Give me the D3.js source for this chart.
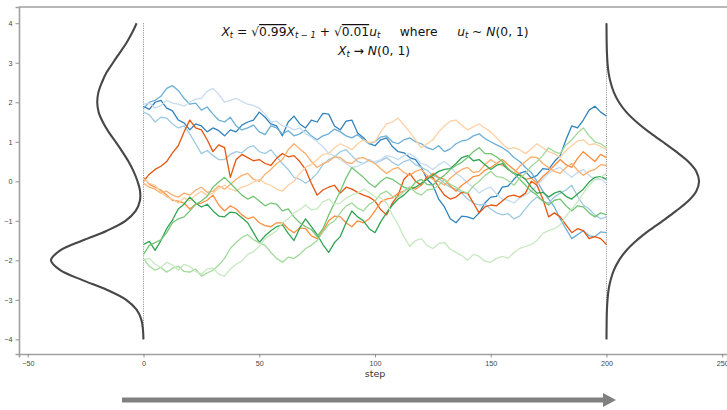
<!DOCTYPE html>
<html>
<head>
<meta charset="utf-8">
<script src="https://cdn.jsdelivr.net/npm/d3@7"></script>
<style>
  body { margin: 0; background: #fff; }
  svg { display: block; font-family: "DejaVu Sans", sans-serif; }
</style>
</head>
<body>
<div id="chart"></div>
<script>
const W = 727, H = 410;

// steps sampled every 2.5
const steps = d3.range(0, 200.001, 2.5);

const xTicks = [-50, 0, 50, 100, 150, 200, 250];
const yTicks = [-4, -3, -2, -1, 0, 1, 2, 3, 4];

// density grid (y) and widths
const densityY = d3.range(-4, 4.001, 0.25);
const leftDensity = [0.05, 0.25, 0.95, 3.0, 7.5, 15.7, 26.4, 36.0, 40.0, 36.0, 26.4, 15.8, 7.8, 3.4, 1.6, 1.5, 2.6,
  4.3, 6.5, 9.2, 12.1, 15.1, 17.6, 19.4, 20.0, 19.5, 18.0, 16.0, 13.2, 10.3, 7.4, 5.0, 3.0];
const rightDensity = [0.01, 0.04, 0.09, 0.2, 0.44, 0.9, 1.8, 3.2, 5.4, 8.6, 13.0, 18.3, 24.3, 30.1, 35.3, 38.8, 40.0,
  38.8, 35.3, 30.1, 24.3, 18.3, 13.0, 8.6, 5.4, 3.2, 1.8, 0.9, 0.44, 0.2, 0.09, 0.04, 0.01];

// the twelve paths (81 values each)
const blue1 = [
  1.90, 1.82, 2.00, 2.05, 1.85, 1.78, 1.55, 1.48, 1.30, 1.45, 1.40, 1.25, 1.35, 1.28, 1.15, 1.30, 1.25, 1.42, 1.50, 1.55,
  1.75, 1.62, 1.45, 1.40, 1.15, 1.50, 1.65, 1.45, 1.35, 1.55, 1.50, 1.72, 1.70, 1.40, 1.30, 1.52, 1.55, 1.22, 1.10, 0.95,
  0.90, 1.05, 1.10, 0.88, 0.75, 0.72, 0.60, 0.55, 0.35, 0.05, -0.10, -0.45, -0.65, -0.95, -1.05, -0.88, -0.90, -0.95, -0.80, -0.55,
  -0.40, -0.38, -0.15, -0.12, 0.05, 0.20, 0.25, 0.08, 0.15, 0.32, 0.30, 0.50, 0.65, 1.05, 1.40, 1.35, 1.55, 1.80, 1.90, 1.75,
  1.65];
const blue2 = [
  1.85, 2.00, 2.05, 2.15, 2.35, 2.42, 2.30, 2.10, 1.95, 1.98, 1.80, 1.88, 1.70, 1.55, 1.50, 1.62, 1.40, 1.30, 1.35, 1.42,
  1.25, 1.18, 1.40, 1.35, 1.20, 1.28, 1.15, 1.20, 1.30, 1.15, 1.05, 1.15, 1.20, 1.32, 1.25, 1.15, 1.10, 1.18, 1.05, 0.95,
  1.00, 1.12, 1.15, 1.00, 0.95, 1.05, 1.10, 1.00, 0.95, 0.85, 0.80, 0.90, 0.75, 0.82, 0.95, 1.02, 1.05, 1.15, 1.20, 1.08,
  1.00, 0.92, 0.85, 0.75, 0.60, 0.50, 0.35, 0.22, 0.00, -0.25, -0.45, -0.65, -0.95, -1.20, -1.45, -1.35, -1.25, -1.38, -1.40, -1.28,
  -1.30];
const blue3 = [
  1.75, 1.68, 1.50, 1.62, 1.60, 1.45, 1.35, 1.40, 1.20, 0.95, 0.70, 0.78, 0.65, 0.55, 0.55, 0.68, 0.75, 0.72, 0.85, 0.90,
  0.75, 0.70, 0.80, 0.62, 0.45, 0.30, 0.10, 0.05, -0.05, 0.05, 0.20, 0.42, 0.55, 0.62, 0.75, 0.80, 0.65, 0.50, 0.45, 0.55,
  0.45, 0.52, 0.60, 0.48, 0.40, 0.50, 0.55, 0.42, 0.35, 0.28, 0.15, 0.08, -0.05, -0.15, -0.20, -0.30, -0.45, -0.55, -0.60, -0.58,
  -0.70, -0.80, -0.85, -0.82, -0.95, -0.88, -0.70, -0.52, -0.40, -0.50, -0.55, -0.40, -0.30, -0.22, -0.10, -0.38, -0.60, -0.70, -0.85, -0.95,
  -0.90];
const blue4 = [
  1.95, 1.98, 1.85, 1.92, 2.05, 1.98, 1.95, 1.90, 2.00, 2.08, 2.10, 2.28, 2.35, 2.20, 2.00, 2.05, 2.10, 2.02, 1.95, 1.92,
  1.85, 1.70, 1.50, 1.52, 1.40, 1.38, 1.30, 1.35, 1.20, 1.12, 1.00, 0.88, 0.70, 0.65, 0.55, 0.45, 0.35, 0.38, 0.45, 0.52,
  0.50, 0.55, 0.65, 0.62, 0.55, 0.65, 0.70, 0.60, 0.45, 0.40, 0.30, 0.42, 0.50, 0.38, 0.20, 0.10, -0.05, -0.15, -0.30, -0.20,
  -0.15, -0.32, -0.45, -0.48, -0.55, -0.42, -0.35, -0.25, -0.10, 0.05, 0.20, 0.30, 0.35, 0.22, 0.10, 0.22, 0.30, 0.15, 0.05, 0.05,
  -0.05];
const orange1 = [
  0.00, 0.18, 0.30, 0.38, 0.50, 0.72, 0.90, 1.25, 1.55, 1.35, 1.30, 1.05, 0.75, 0.92, 0.85, 0.10, 0.55, 0.68, 0.60, 0.52,
  0.55, 0.45, 0.40, 0.58, 0.70, 0.62, 0.65, 0.50, 0.30, -0.05, -0.35, -0.22, -0.15, -0.10, -0.30, -0.15, -0.20, -0.28, -0.35, -0.40,
  -0.50, -0.72, -0.85, -0.55, -0.35, 0.05, 0.20, 0.00, -0.10, 0.12, 0.10, -0.15, -0.35, -0.45, -0.40, -0.28, -0.30, -0.55, -0.80, -0.65,
  -0.60, -0.62, -0.50, -0.38, -0.35, -0.40, -0.30, 0.00, -0.10, -0.45, -0.90, -0.80, -0.90, -1.10, -1.30, -1.20, -1.25, -1.45, -1.40, -1.45,
  -1.60];
const orange2 = [
  0.10, -0.08, -0.15, -0.22, -0.35, -0.48, -0.50, -0.55, -0.70, -0.58, -0.55, -0.48, -0.35, -0.60, -0.75, -0.62, -0.70, -0.85, -0.95, -0.90,
  -1.05, -1.12, -1.15, -1.05, -1.05, -1.20, -1.30, -1.18, -1.20, -1.38, -1.45, -1.25, -1.00, -0.88, -0.90, -1.05, -1.15, -1.00, -1.05, -0.95,
  -0.75, -0.52, -0.45, -0.42, -0.30, -0.25, -0.15, -0.20, -0.10, 0.08, 0.20, 0.10, 0.05, -0.12, -0.25, -0.10, 0.00, 0.12, 0.15, 0.28,
  0.35, 0.45, 0.55, 0.42, 0.30, 0.18, 0.05, 0.08, -0.05, 0.12, 0.25, 0.40, 0.55, 0.42, 0.35, 0.58, 0.75, 0.62, 0.50, 0.68,
  0.60];
const orange3 = [
  -0.05, -0.15, -0.20, -0.30, -0.25, -0.35, -0.40, -0.30, -0.35, -0.22, -0.15, -0.28, -0.25, -0.12, -0.20, -0.08, 0.05, 0.15, 0.20, 0.05,
  0.00, 0.18, 0.30, 0.45, 0.55, 0.80, 0.95, 0.82, 0.70, 0.50, 0.35, 0.45, 0.50, 0.62, 0.60, 0.48, 0.45, 0.58, 0.60, 0.52,
  0.45, 0.32, 0.20, 0.30, 0.35, 0.22, 0.15, 0.25, 0.30, 0.15, 0.05, 0.00, -0.10, 0.08, 0.20, 0.30, 0.35, 0.22, 0.25, 0.42,
  0.55, 0.45, 0.40, 0.32, 0.20, 0.38, 0.50, 0.62, 0.60, 0.45, 0.35, 0.25, 0.20, 0.35, 0.45, 0.28, 0.15, 0.25, 0.30, 0.42,
  0.40];
const orange4 = [
  0.05, -0.05, -0.10, -0.28, -0.40, -0.45, -0.55, -0.42, -0.50, -0.35, -0.25, -0.35, -0.30, -0.18, -0.10, -0.20, -0.25, -0.15, -0.10, -0.02,
  0.05, -0.05, -0.10, -0.20, -0.25, -0.10, 0.00, 0.20, 0.35, 0.42, 0.55, 0.68, 0.70, 0.85, 0.95, 0.88, 0.80, 0.95, 1.05, 0.98,
  1.00, 1.25, 1.45, 1.50, 1.60, 1.42, 1.25, 1.05, 0.85, 0.95, 1.05, 1.25, 1.40, 1.52, 1.55, 1.42, 1.30, 1.38, 1.45, 1.35,
  1.25, 1.10, 0.95, 0.82, 0.85, 0.80, 0.70, 0.82, 0.95, 0.85, 0.75, 0.70, 0.60, 0.78, 0.90, 1.02, 1.05, 0.92, 0.95, 0.88,
  0.80];
const green1 = [
  -1.60, -1.52, -1.75, -1.50, -1.20, -0.98, -0.70, -0.58, -0.40, -0.55, -0.65, -0.58, -0.75, -0.88, -0.90, -0.78, -0.80, -0.92, -1.05, -1.30,
  -1.55, -1.38, -1.25, -1.15, -1.10, -1.32, -1.50, -1.18, -0.95, -1.15, -1.35, -1.60, -1.80, -1.55, -1.40, -1.05, -0.75, -0.90, -1.00, -1.20,
  -1.30, -1.02, -0.80, -0.60, -0.45, -0.35, -0.20, -0.15, -0.05, 0.05, 0.15, 0.25, 0.30, 0.32, 0.45, 0.60, 0.65, 0.52, 0.55, 0.42,
  0.30, 0.40, 0.45, 0.30, 0.20, 0.15, 0.05, -0.15, -0.30, -0.28, -0.40, -0.30, -0.25, -0.38, -0.45, -0.32, -0.20, -0.02, 0.10, 0.12,
  0.05];
const green2 = [
  -1.85, -1.62, -1.55, -1.48, -1.30, -1.05, -0.95, -0.90, -0.75, -0.58, -0.50, -0.38, -0.15, -0.02, 0.10, -0.05, -0.20, -0.35, -0.45, -0.38,
  -0.50, -0.62, -0.55, -0.58, -0.75, -0.70, -0.90, -1.05, -1.15, -1.22, -1.40, -1.20, -0.85, -0.55, -0.25, 0.08, 0.35, 0.22, 0.10, -0.05,
  -0.15, 0.00, 0.10, 0.05, -0.05, -0.15, -0.20, -0.02, 0.05, -0.08, -0.10, 0.05, 0.15, 0.30, 0.40, 0.48, 0.60, 0.75, 0.85, 0.70,
  0.70, 0.62, 0.50, 0.32, 0.20, 0.05, -0.10, -0.25, -0.35, -0.50, -0.60, -0.48, -0.45, -0.62, -0.75, -0.62, -0.65, -0.80, -0.90, -0.80,
  -0.85];
const green3 = [
  -1.95, -2.15, -2.25, -2.18, -2.30, -2.20, -2.15, -2.28, -2.30, -2.22, -2.40, -2.32, -2.25, -2.12, -1.95, -1.70, -1.55, -1.42, -1.35, -1.48,
  -1.55, -1.62, -1.80, -1.95, -2.05, -1.92, -1.95, -1.85, -1.70, -1.62, -1.50, -1.28, -1.10, -1.00, -0.80, -0.62, -0.55, -0.68, -0.75, -0.58,
  -0.50, -0.32, -0.25, -0.38, -0.40, -0.25, -0.15, -0.28, -0.35, -0.22, -0.20, -0.10, 0.05, -0.08, -0.15, -0.25, -0.30, -0.12, 0.00, 0.15,
  0.25, 0.12, 0.10, 0.02, -0.10, 0.08, 0.20, 0.38, 0.50, 0.65, 0.85, 0.75, 0.70, 0.92, 1.05, 1.22, 1.35, 1.15, 1.00, 0.95,
  0.85];
const green4 = [
  -2.00, -1.95, -2.10, -2.18, -2.05, -2.12, -2.25, -2.10, -2.15, -2.28, -2.35, -2.22, -2.20, -2.35, -2.40, -2.22, -2.10, -2.02, -1.85, -1.78,
  -1.65, -1.45, -1.35, -1.25, -1.05, -0.95, -0.80, -0.72, -0.60, -0.72, -0.70, -0.52, -0.45, -0.58, -0.55, -0.42, -0.35, -0.30, -0.20, -0.28,
  -0.40, -0.42, -0.55, -0.85, -1.10, -1.40, -1.65, -1.50, -1.45, -1.62, -1.70, -1.58, -1.55, -1.72, -1.80, -1.88, -2.00, -1.85, -1.90, -2.02,
  -2.05, -1.95, -1.90, -1.95, -1.80, -1.70, -1.65, -1.60, -1.50, -1.32, -1.25, -1.20, -1.10, -0.88, -0.70, -0.52, -0.30, -0.10, 0.05, 0.10,
  0.20];

const paths = [blue1, blue2, blue3, blue4, orange1, orange2, orange3, orange4, green1, green2, green3, green4];
const colors = ["#3182bd", "#6baed6", "#9ecae1", "#c6dbef", "#e6550d", "#fd8d3c", "#fdae6b", "#fdd0a2",
  "#31a354", "#74c476", "#a1d99b", "#c7e9c0"];

const svg = d3.select("#chart").append("svg")
  .attr("width", W)
  .attr("height", H);

let x = d3.scaleLinear().domain([-53.8, 253.8]).range([19, 731]);
let y = d3.scaleLinear().domain([-4.37, 4.41]).range([354, 7]);

// axes
const xAxis = svg.append("g")
  .attr("transform", "translate(0," + 354 + ")")
  .call(d3.axisBottom(x).tickValues(xTicks).tickSize(3.5).tickPadding(3));
const yAxis = svg.append("g")
  .attr("transform", "translate(19,0)")
  .call(d3.axisLeft(y).tickValues(yTicks).tickSize(3.5).tickPadding(3));

[xAxis, yAxis].forEach(g => {
  g.select(".domain").attr("stroke", "#a0a0a0").attr("stroke-width", 1.6);
  g.selectAll(".tick line").attr("stroke", "#777").attr("stroke-width", 0.8);
  g.selectAll(".tick text").attr("fill", "#444").style("font-size", "7.2px");
});

// top spine
svg.append("line")
  .attr("x1", 19).attr("x2", W)
  .attr("y1", 7).attr("y2", 7)
  .attr("stroke", "#a0a0a0").attr("stroke-width", 1.6);

svg.append("text")
  .attr("x", x(100)).attr("y", 377)
  .attr("text-anchor", "middle")
  .attr("fill", "#333")
  .style("font-size", "9.5px")
  .text("step");

// dotted verticals
[0, 200].forEach(s => {
  svg.append("line")
    .attr("x1", x(s)).attr("x2", x(s))
    .attr("y1", y(4)).attr("y2", y(-4))
    .attr("stroke", "#777")
    .attr("stroke-width", 0.9)
    .attr("stroke-dasharray", "1,1.3");
});

// walks
const line = d3.line()
  .x((d, i) => x(steps[i]))
  .y(d => y(d));

svg.append("g")
  .selectAll("path")
  .data(paths)
  .enter()
  .append("path")
  .attr("d", d => line(d))
  .attr("fill", "none")
  .attr("stroke", (d, i) => colors[i])
  .attr("stroke-width", 1.3)
  .attr("stroke-linejoin", "round");

// densities
const leftLine = d3.line()
  .x(d => x(-d[1]))
  .y(d => y(d[0]))
  .curve(d3.curveCatmullRom);
const rightLine = d3.line()
  .x(d => x(200 + d[1]))
  .y(d => y(d[0]))
  .curve(d3.curveCatmullRom);

svg.append("path")
  .attr("d", leftLine(densityY.map((v, i) => [v, leftDensity[i]])))
  .attr("fill", "none").attr("stroke", "#474747").attr("stroke-width", 2.1);
svg.append("path")
  .attr("d", rightLine(densityY.map((v, i) => [v, rightDensity[i]])))
  .attr("fill", "none").attr("stroke", "#474747").attr("stroke-width", 2.1);

// title formulas
function mathLine(parts, cx, by, size) {
  const t = svg.append("text")
    .attr("y", by)
    .attr("fill", "#111")
    .style("white-space", "pre")
    .style("font-size", size + "px");
  parts.forEach(p => {
    const ts = t.append("tspan").text(p.t);
    if (p.i) ts.style("font-style", "italic");
    if (p.sub) ts.attr("baseline-shift", "-25%").style("font-size", (size * 0.68) + "px");
    if (p.over) ts.style("text-decoration", "overline");
  });
  const w = t.node().getComputedTextLength();
  t.attr("x", cx - w / 2);
  return t;
}

mathLine([
  { t: "X", i: true }, { t: "t", i: true, sub: true }, { t: " = √" }, { t: "0.99", over: true },
  { t: "X", i: true }, { t: "t − 1", i: true, sub: true }, { t: " + √" }, { t: "0.01", over: true },
  { t: "u", i: true }, { t: "t", i: true, sub: true }, { t: "     where     " },
  { t: "u", i: true }, { t: "t", i: true, sub: true }, { t: " ~ " }, { t: "N", i: true }, { t: "(0, 1)" }
], 375, 36, 12.3);

mathLine([
  { t: "X", i: true }, { t: "t", i: true, sub: true }, { t: " → " }, { t: "N", i: true }, { t: "(0, 1)" }
], 374, 55, 12.3);

// arrow under the axis
svg.append("line")
  .attr("x1", 122).attr("x2", 604)
  .attr("y1", 400).attr("y2", 400)
  .attr("stroke", "#808080").attr("stroke-width", 5);
svg.append("path")
  .attr("d", "M603,393 L616,400 L603,407 Z")
  .attr("fill", "#808080");
</script>
</body>
</html>
